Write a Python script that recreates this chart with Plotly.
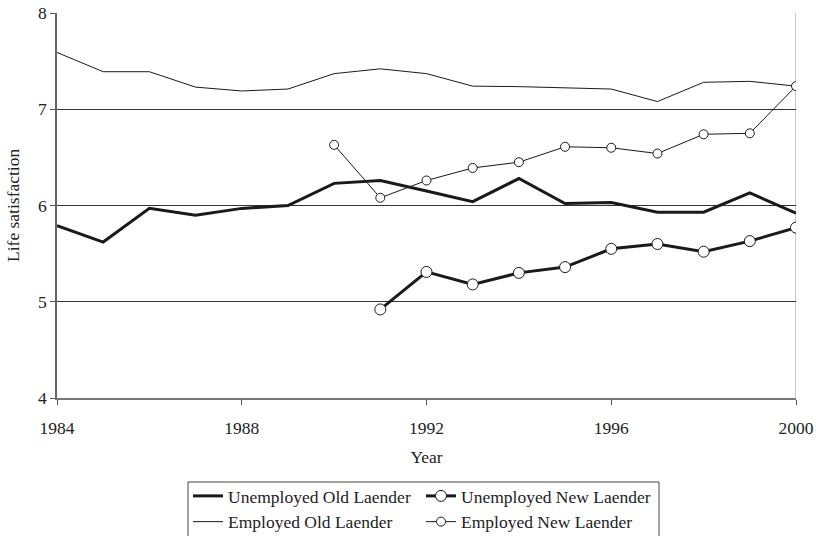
import plotly.graph_objects as go

years_old = list(range(1984, 2001))
years_new_emp = list(range(1990, 2001))
years_new_unemp = list(range(1991, 2001))

unemployed_old = [5.79, 5.62, 5.97, 5.90, 5.97, 6.00, 6.23, 6.26, 6.15, 6.04, 6.28, 6.02, 6.03, 5.93, 5.93, 6.13, 5.92]
employed_old = [7.59, 7.39, 7.39, 7.23, 7.19, 7.21, 7.37, 7.42, 7.37, 7.24, 7.235, 7.225, 7.21, 7.08, 7.28, 7.29, 7.24]
employed_new = [6.63, 6.08, 6.26, 6.39, 6.45, 6.61, 6.60, 6.54, 6.74, 6.75, 7.24]
unemployed_new = [4.92, 5.31, 5.18, 5.30, 5.36, 5.55, 5.60, 5.52, 5.63, 5.77]

x_ticks = [1984, 1988, 1992, 1996, 2000]
y_ticks = [4, 5, 6, 7, 8]

LINE = "#1a1a1a"
FONT = "Liberation Serif"
FS = 17.5

W, H = 816, 536
ML, MR, MT, MB = 57, 20, 13, 138
PW, PH = W - ML - MR, H - MT - MB


def px_x(px):
    return (px - ML) / PW


def px_y(py):
    return (H - MB - py) / PH


fig = go.Figure()
fig.add_trace(go.Scatter(x=years_old, y=unemployed_old, mode="lines", name="Unemployed Old Laender",
                         legend="legend", line=dict(color=LINE, width=3)))
fig.add_trace(go.Scatter(x=years_old, y=employed_old, mode="lines", name="Employed Old Laender",
                         legend="legend", line=dict(color=LINE, width=1)))
fig.add_trace(go.Scatter(x=years_new_unemp, y=unemployed_new, mode="lines+markers", name="Unemployed New Laender",
                         legend="legend2", line=dict(color=LINE, width=3),
                         marker=dict(symbol="circle", size=11, color="white", line=dict(color=LINE, width=1))))
fig.add_trace(go.Scatter(x=years_new_emp, y=employed_new, mode="lines+markers", name="Employed New Laender",
                         legend="legend2", line=dict(color=LINE, width=1),
                         marker=dict(symbol="circle", size=9, color="white", line=dict(color=LINE, width=1))))

# right border line
fig.add_shape(type="line", xref="x", yref="paper", x0=2000, x1=2000, y0=0, y1=1,
              line=dict(color="#b8b8b8", width=1.5), layer="below")
# legend frame
fig.add_shape(type="rect", xref="paper", yref="paper",
              x0=px_x(188), x1=px_x(659), y0=px_y(545), y1=px_y(482),
              line=dict(color="#444", width=1), fillcolor="rgba(0,0,0,0)")

# y-axis title
fig.add_annotation(text="Life satisfaction", xref="paper", yref="paper",
                   x=px_x(13), y=px_y(206), textangle=-90, showarrow=False,
                   xanchor="center", yanchor="middle",
                   font=dict(family=FONT, size=FS, color="#222"))

leg_common = dict(orientation="v", xref="container", yref="container", xanchor="left", yanchor="top",
                  borderwidth=0, bgcolor="rgba(0,0,0,0)", tracegroupgap=0, itemwidth=30,
                  font=dict(family=FONT, size=FS, color="#222"))

fig.update_layout(
    width=W, height=H,
    margin=dict(l=ML, r=MR, t=MT, b=MB, autoexpand=False),
    paper_bgcolor="white", plot_bgcolor="white",
    font=dict(family=FONT, size=FS, color="#222"),
    showlegend=True,
    legend=dict(x=188 / W, y=(H - 478) / H, **leg_common),
    legend2=dict(x=421 / W, y=(H - 478) / H, **leg_common),
    xaxis=dict(range=[1984, 2000], tickvals=x_ticks, ticktext=[str(v) for v in x_ticks],
               showgrid=False, zeroline=False, showline=True, linecolor="#777", linewidth=1.5,
               ticks="outside", ticklen=5, tickcolor="#555", ticklabelstandoff=8,
               title=dict(text="Year", font=dict(family=FONT, size=FS), standoff=14)),
    yaxis=dict(range=[4, 8], tickvals=y_ticks, showgrid=True, gridcolor="#333", gridwidth=1,
               zeroline=False, showline=True, linecolor="#666", linewidth=1.5,
               ticks="outside", ticklen=5, tickcolor="#555"),
)

fig.write_html("out.html", post_script="document.body.style.margin='0';",
               config={"displayModeBar": False})
